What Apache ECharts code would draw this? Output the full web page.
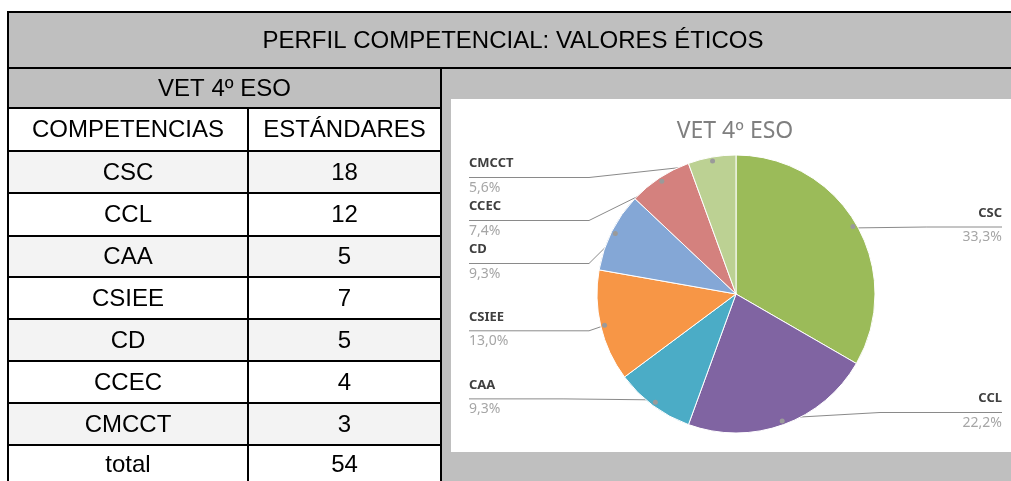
<!DOCTYPE html>
<html><head><meta charset="utf-8">
<script src="https://cdn.jsdelivr.net/npm/echarts@6/dist/echarts.min.js"></script>
<style>html,body{margin:0;padding:0;background:#fff}#c{width:1011px;height:481px}</style>
</head><body><div id="c"></div>
<script>
const mainTitle = 'PERFIL COMPETENCIAL: VALORES ÉTICOS';
const subTitle = 'VET 4º ESO';
const headers = ['COMPETENCIAS', 'ESTÁNDARES'];
const categories = ['CSC', 'CCL', 'CAA', 'CSIEE', 'CD', 'CCEC', 'CMCCT'];
const values = [18, 12, 5, 7, 5, 4, 3];
const totalLabel = 'total';
const sliceColors = ['#9bbb59', '#8064a2', '#4bacc6', '#f79646', '#84a7d6', '#d4817e', '#bcd193'];

const total = values.reduce((a, b) => a + b, 0);
const fmtPct = v => (v / total * 100).toFixed(1).replace('.', ',') + '%';

// layout
const colX = [8, 248, 441];
const rowY = [12, 68, 108, 151, 193, 236, 277, 319, 361, 403, 445, 489];
const GRAY = '#bfbfbf', LIGHT = '#f3f3f3';
const plot = {x: 451, y: 99, w: 560, h: 353};
const box = {left: 460, top: 156, right: 0, bottom: 47};
const pieC = [736, 294], pieR = 139;
const FONT = '24px "Liberation Sans", Arial, sans-serif';

const g = [];
g.push({type: 'rect', shape: {x: 441, y: 68, width: 580, height: 420}, style: {fill: GRAY}, z: 0});
g.push({type: 'rect', shape: {x: plot.x, y: plot.y, width: plot.w + 10, height: plot.h}, style: {fill: '#fff'}, z: 0});
function cell(x, y, w, h, fill, text, tx, ty) {
  g.push({type: 'rect', shape: {x, y, width: w, height: h}, style: {fill, stroke: '#000', lineWidth: 2}, z: 1});
  if (text !== undefined) g.push({type: 'text', x: tx !== undefined ? tx : x + w / 2, y: ty !== undefined ? ty : y + h / 2 + 1,
    style: {text: String(text), fill: '#000', font: FONT, align: 'center', verticalAlign: 'middle', textAlign: 'center', textVerticalAlign: 'middle'}, z: 2});
}
cell(colX[0], rowY[0], 1030, rowY[1] - rowY[0], GRAY, mainTitle, 513);
cell(colX[0], rowY[1], colX[2] - colX[0], rowY[2] - rowY[1], GRAY, subTitle);
cell(colX[0], rowY[2], colX[1] - colX[0], rowY[3] - rowY[2], '#fff', headers[0]);
cell(colX[1], rowY[2], colX[2] - colX[1], rowY[3] - rowY[2], '#fff', headers[1]);
categories.forEach((c, i) => {
  const fill = i % 2 === 0 ? LIGHT : '#fff';
  cell(colX[0], rowY[3 + i], colX[1] - colX[0], rowY[4 + i] - rowY[3 + i], fill, c);
  cell(colX[1], rowY[3 + i], colX[2] - colX[1], rowY[4 + i] - rowY[3 + i], fill, values[i]);
});
const tr = 3 + categories.length;
cell(colX[0], rowY[tr], colX[1] - colX[0], 60, '#fff', totalLabel, undefined, 465);
cell(colX[1], rowY[tr], colX[2] - colX[1], 60, '#fff', total, undefined, 465);
g.push({type: 'text', x: 735, y: 131, style: {text: subTitle, fill: '#7f7f7f', font: '23px "Noto Sans", sans-serif', align: 'center', verticalAlign: 'middle', textAlign: 'center', textVerticalAlign: 'middle'}, z: 3});

const pieData = categories.map((c, i) => ({name: c, value: values[i], itemStyle: {color: sliceColors[i]}}));

const chart = echarts.init(document.getElementById('c'), null, {renderer: 'canvas'});
chart.setOption({
  animation: false,
  graphic: g,
  series: [{
    type: 'pie',
    z: 5,
    left: box.left, top: box.top, right: box.right, bottom: box.bottom,
    center: [pieC[0] - box.left, pieC[1] - box.top],
    radius: pieR,
    startAngle: 90,
    clockwise: true,
    avoidLabelOverlap: true,
    itemStyle: {borderColor: '#fff', borderWidth: 1},
    label: {
      show: true,
      position: 'outside',
      alignTo: 'edge',
      edgeDistance: 9,
      formatter: p => '{n|' + p.name + '}\n{p|' + fmtPct(p.value) + '}',
      rich: {
        n: {fontFamily: 'Noto Sans', fontSize: 13, fontWeight: 'bold', color: '#404040', lineHeight: 22, padding: [0, 0, 8, 0]},
        p: {fontFamily: 'Noto Sans', fontSize: 14, color: '#a6a6a6', lineHeight: 22, padding: [0, 0, 3, 0]}
      }
    },
    labelLine: {show: true, length: -7, length2: 0, minTurnAngle: 0, maxSurfaceAngle: 180,
      lineStyle: {color: '#8a8a8a', width: 1}},
    labelLayout: function (params) {
      const pts = params.labelLinePoints;
      if (!pts) return {};
      const rect = params.labelRect;
      const isLeft = rect.x + rect.width / 2 < pieC[0];
      const endX = isLeft ? rect.x : rect.x + rect.width;
      const ly = rect.y + rect.height / 2;
      const p0 = pts[0];
      const pin = [pieC[0] + (p0[0] - pieC[0]) * 0.95, pieC[1] + (p0[1] - pieC[1]) * 0.95];
      const elbowX = isLeft ? pieC[0] - pieR - 8 : pieC[0] + pieR + 5;
      const line = Math.abs(ly - pin[1]) < 1.5
        ? [pin, [(pin[0] + endX) / 2, ly], [endX, ly]]
        : [pin, [elbowX, ly], [endX, ly]];
      return {labelLinePoints: line};
    },
    emphasis: {disabled: true},
    data: pieData
  }, {
    // anchor dots at the start of each leader line
    type: 'pie',
    z: 6,
    silent: true,
    left: box.left, top: box.top, right: box.right, bottom: box.bottom,
    center: [pieC[0] - box.left, pieC[1] - box.top],
    radius: [pieR * 0.9, pieR],
    startAngle: 90,
    clockwise: true,
    itemStyle: {color: 'rgba(0,0,0,0)', borderWidth: 0},
    label: {show: true, position: 'inside', formatter: '{d|}',
      rich: {d: {width: 5, height: 5, borderRadius: 2.5, backgroundColor: '#9a9a9a'}}},
    labelLine: {show: false},
    emphasis: {disabled: true},
    data: categories.map((c, i) => ({name: c, value: values[i]}))
  }]
});
</script></body></html>
